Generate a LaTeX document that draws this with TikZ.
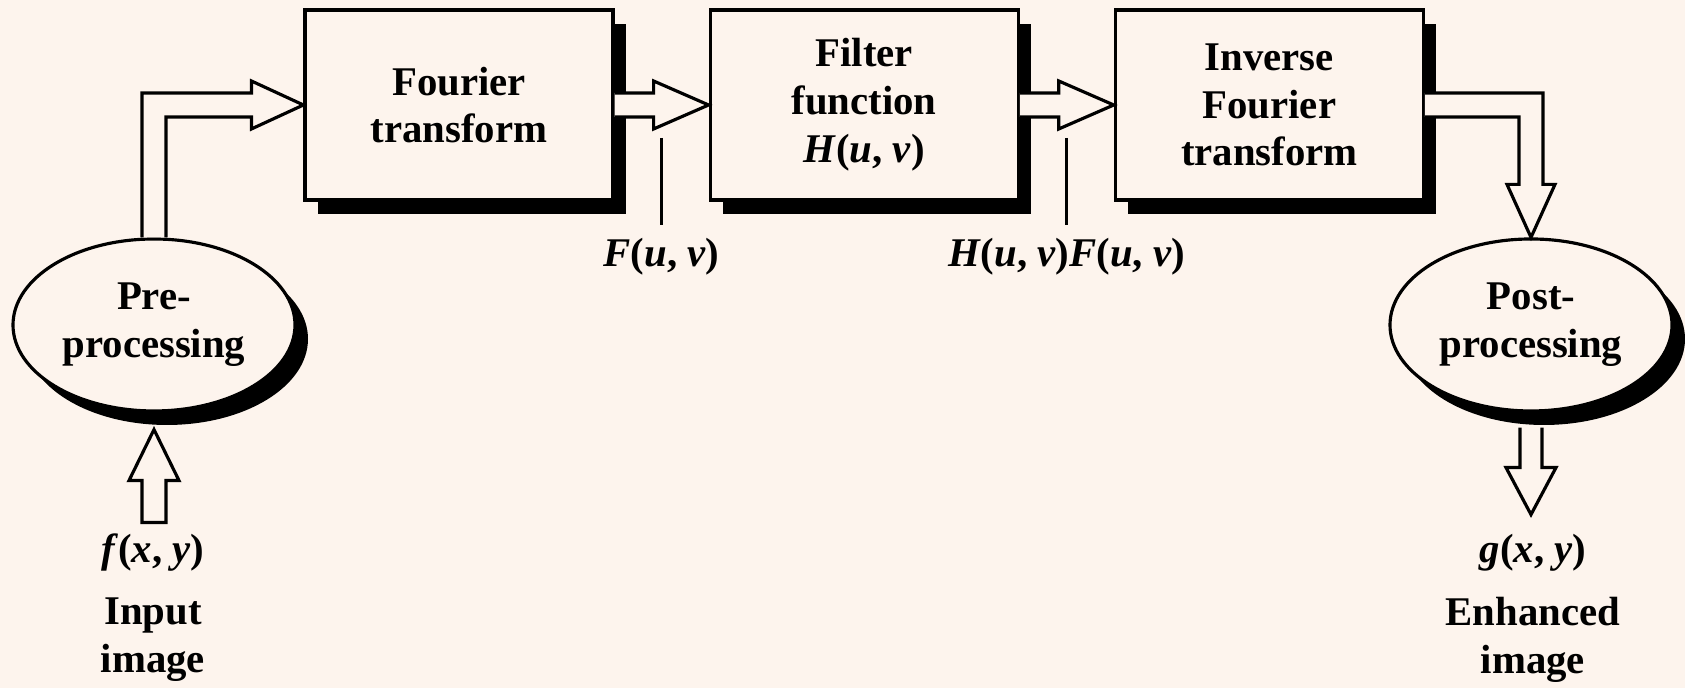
\documentclass[tikz,border=0pt]{standalone}
\usepackage{fontspec}
\setmainfont{Liberation Serif}
\usetikzlibrary{calc,positioning,shapes.geometric,shadows}
\definecolor{ipbg}{RGB}{253,244,237}
\tikzset{
 ip shadow/.style={drop shadow={shadow xshift=.13cm,shadow yshift=-.14cm,
                   fill=black,opacity=1}},
 ip block/.style={rectangle,draw=black,fill=ipbg,line width=.9pt,
                  minimum width=3.08cm,minimum height=1.9cm,align=center,
                  inner sep=0pt,ip shadow},
 ip oval/.style={ellipse,draw=black,fill=ipbg,line width=.9pt,
                 minimum width=2.82cm,minimum height=1.72cm,align=center,
                 inner sep=0pt,ip shadow},
 ip hollow/.style={draw=black,fill=ipbg,line width=.9pt,line join=miter},
 ip tick/.style={line width=.9pt},
 ip label/.style={align=center,inner sep=0pt}
}
\newcommand{\ipv}[1]{\textit{#1}}

\begin{document}
\begin{tikzpicture}[every node/.style={font=\bfseries\fontsize{11.6}{13.6}\selectfont}]
 \path[fill=ipbg,use as bounding box] (0,0) rectangle (16.85,6.88);
 % blocks
 \node[ip block] (ft) at (4.59,5.83) {Fourier\\transform};
 \node[ip block,right=.94cm of ft] (hf)
   {Filter\\function\\\ipv{H}(\ipv{u}, \ipv{v})};
 \node[ip block,right=.94cm of hf] (ift) {Inverse\\Fourier\\transform};
 \node[ip oval] (pre) at (1.54,3.63) {Pre-\\processing};
 \node[ip oval] (post) at (15.31,3.63) {Post-\\processing};
 % hollow arrows
 \draw[ip hollow] ($(pre.north)+(-.12,0)$) |- ($(ft.west)+(-.52,.12)$)
   -- ++(0,.12) -- (ft.west) -- ($(ft.west)+(-.52,-.24)$) -- ++(0,.12)
   -| ($(pre.north)+(.12,0)$);
 \foreach \a/\b in {ft/hf,hf/ift}{
   \draw[ip hollow] ($(\a.east)+(0,.12)$) -- ($(\b.west)+(-.55,.12)$)
     -- ++(0,.12) -- (\b.west) -- ($(\b.west)+(-.55,-.24)$) -- ++(0,.12)
     -- ($(\a.east)+(0,-.12)$);
 }
 \draw[ip hollow] ($(ift.east)+(0,.12)$) -| ($(post.north)+(.12,.53)$)
   -- ++(.12,0) -- (post.north) -- ($(post.north)+(-.24,.53)$) -- ++(.12,0)
   |- ($(ift.east)+(0,-.12)$);
 \draw[ip hollow] ($(pre.south)+(-.12,-1.10)$) -- ($(pre.south)+(-.12,-.68)$)
   -- ++(-.13,0) -- ($(pre.south)+(0,-.17)$) -- ($(pre.south)+(.25,-.68)$)
   -- ++(-.13,0) -- ($(pre.south)+(.12,-1.10)$) -- cycle;
 \draw[ip hollow] ($(post.south)+(-.11,-.15)$) -- ($(post.south)+(-.11,-.55)$)
   -- ++(-.14,0) -- ($(post.south)+(0,-1.02)$) -- ($(post.south)+(.25,-.55)$)
   -- ++(-.14,0) -- ($(post.south)+(.11,-.15)$);
 % spectrum labels
 \coordinate (tk1) at ($(ft.east)!.5!(hf.west)+(0,-.33)$);
 \coordinate (tk2) at ($(hf.east)!.5!(ift.west)+(0,-.33)$);
 \node[ip label,below=1.0cm of tk1] (fuv) {\ipv{F}(\ipv{u}, \ipv{v})};
 \node[ip label,below=1.0cm of tk2] (hfuv)
   {\ipv{H}(\ipv{u}, \ipv{v})\ipv{F}(\ipv{u}, \ipv{v})};
 \draw[ip tick] (tk1) -- ($(fuv.north)+(0,.13)$);
 \draw[ip tick] (tk2) -- ($(hfuv.north)+(0,.13)$);
 % input and output
 \node[ip label] (fxy) at (1.53,1.35) {\ipv{f}(\ipv{x}, \ipv{y})};
 \node[ip label] (inp) at (1.53,.48) {Input\\image};
 \node[ip label] (gxy) at (15.33,1.35) {\ipv{g}(\ipv{x}, \ipv{y})};
 \node[ip label] (enh) at (15.33,.48) {Enhanced\\image};
\end{tikzpicture}
\end{document}
